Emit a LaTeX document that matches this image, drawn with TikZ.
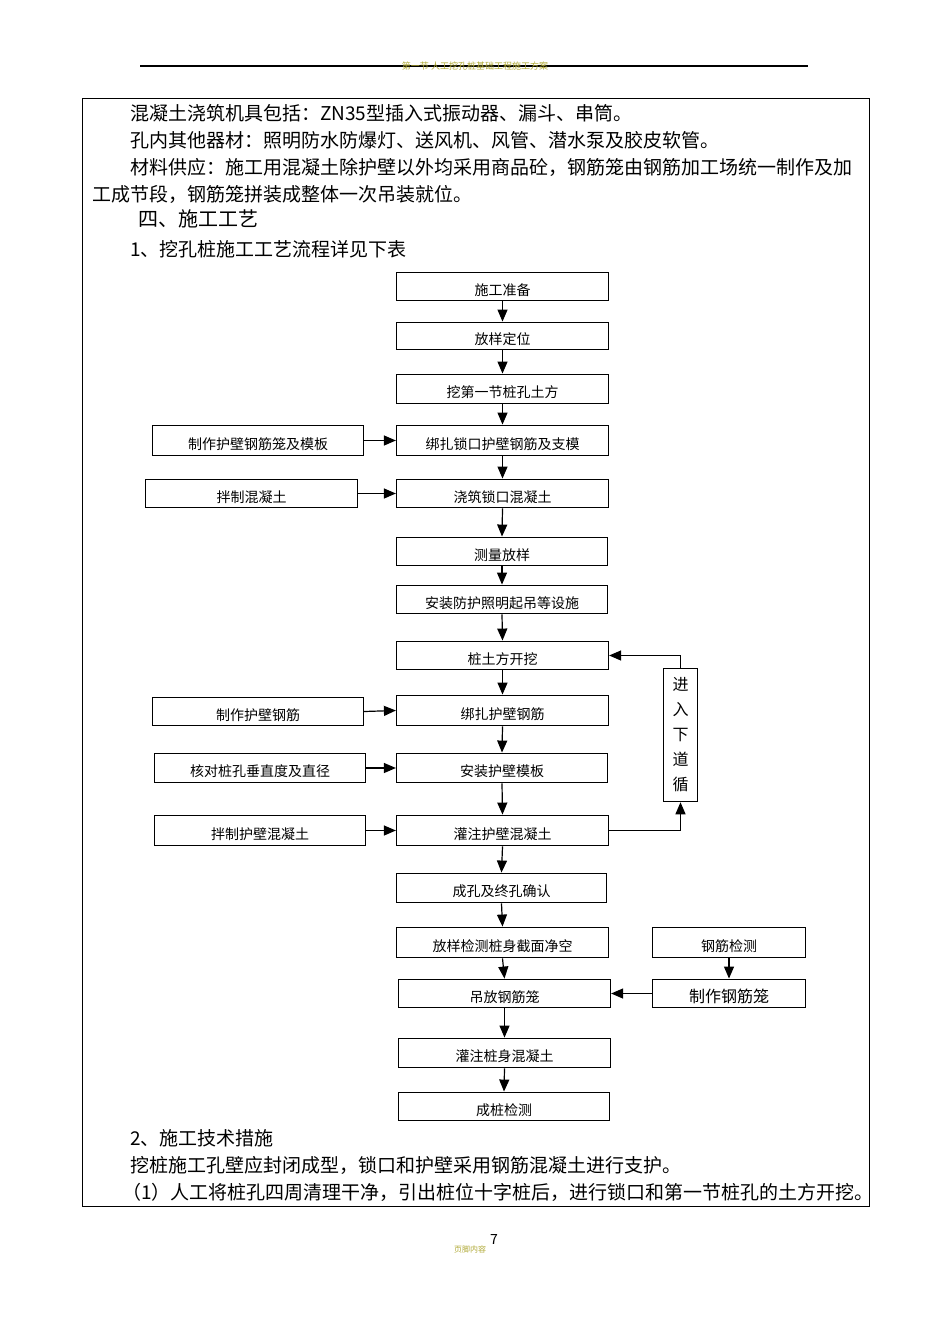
\documentclass[tikz,border=0pt]{standalone}
\usepackage{fontspec}
\setmainfont{Noto Sans CJK SC}
\usetikzlibrary{arrows.meta}
\tikzset{
 box/.style={draw, line width=1bp, inner sep=0pt, font=\fontsize{14bp}{16bp}\selectfont, text depth=0pt, text height=17bp},
 arr/.style={-{Triangle[length=12bp,width=10bp]}, line width=1.2bp},
 body/.style={anchor=base west, inner sep=0pt, font=\fontsize{19bp}{21bp}\selectfont},
}
\newcommand{\bx}[6]{\node[box, minimum width=#4-#2, minimum height=#5-#3] (#1) at ({(#2+#4)/2},{(#3+#5)/2}) {#6};}
\begin{document}
\begin{tikzpicture}[x=1bp,y=-1bp]
\useasboundingbox (0,0) rectangle (950,1344);
\fill[white] (0,0) rectangle (950,1344);
% header
\draw[line width=1.2bp] (140,66) -- (808,66);
\node[anchor=base, inner sep=0pt, text=olive!70!white, font=\fontsize{9bp}{10bp}\selectfont] (hdr) at (475,70) {第一节 人工挖孔桩基础工程施工方案};
% frame
\draw[line width=0.8bp] (82,98) rectangle (869,1206);
% body text
\node[body] (t1) at (130,121) {混凝土浇筑机具包括：ZN35型插入式振动器、漏斗、串筒。};
\node[body] (t2) at (130,148) {孔内其他器材：照明防水防爆灯、送风机、风管、潜水泵及胶皮软管。};
\node[body] (t3) at (130,175) {材料供应：施工用混凝土除护壁以外均采用商品砼，钢筋笼由钢筋加工场统一制作及加};
\node[body] (t4) at (92,202) {工成节段，钢筋笼拼装成整体一次吊装就位。};
\node[body, font=\fontsize{20bp}{22bp}\selectfont] (t5) at (138,227) {四、施工工艺};
\node[body] (t6) at (130,257) {1、挖孔桩施工工艺流程详见下表};
\node[body] (b1) at (130,1145) {2、施工技术措施};
\node[body] (b2) at (130,1172) {挖桩施工孔壁应封闭成型，锁口和护壁采用钢筋混凝土进行支护。};
\node[body] (b3) at (122,1199) {（1）人工将桩孔四周清理干净，引出桩位十字桩后，进行锁口和第一节桩孔的土方开挖。};
% footer
\node[anchor=base, inner sep=0pt, font=\fontsize{14bp}{16bp}\selectfont] (pg) at (494,1244) {7};
\node[anchor=base, inner sep=0pt, text=olive!70!white, font=\fontsize{8bp}{9bp}\selectfont] (ft) at (470,1252) {页脚内容};
% boxes
\bx{n1}{396}{272}{609}{301}{施工准备}
\bx{n2}{396}{322}{609}{350}{放样定位}
\bx{n3}{396}{374}{609}{404}{挖第一节桩孔土方}
\bx{n4}{396}{425}{609}{456}{绑扎锁口护壁钢筋及支模}
\bx{l4}{152}{425}{364}{456}{制作护壁钢筋笼及模板}
\bx{n5}{396}{479}{609}{508}{浇筑锁口混凝土}
\bx{l5}{145}{479}{358}{508}{拌制混凝土}
\bx{n6}{396}{537}{608}{566}{测量放样}
\bx{n7}{396}{585}{608}{614}{安装防护照明起吊等设施}
\bx{n8}{396}{641}{609}{670}{桩土方开挖}
\bx{n9}{396}{695}{609}{726}{绑扎护壁钢筋}
\bx{l9}{152}{697}{364}{726}{制作护壁钢筋}
\bx{n10}{396}{753}{608}{783}{安装护壁模板}
\bx{l10}{154}{753}{366}{783}{核对桩孔垂直度及直径}
\bx{n11}{396}{815}{609}{846}{灌注护壁混凝土}
\bx{l11}{154}{815}{366}{846}{拌制护壁混凝土}
\bx{n12}{396}{873}{607}{903}{成孔及终孔确认}
\bx{n13}{396}{927}{609}{958}{放样检测桩身截面净空}
\bx{r13}{652}{927}{806}{958}{钢筋检测}
\bx{n14}{398}{979}{611}{1008}{吊放钢筋笼}
\node[box, minimum width=154, minimum height=29, font=\fontsize{16bp}{18bp}\selectfont] (r14) at (729,993.5) {制作钢筋笼};
\bx{n15}{398}{1038}{611}{1068}{灌注桩身混凝土}
\bx{n16}{398}{1092}{610}{1121}{成桩检测}
\node[draw, line width=1bp, minimum width=35, minimum height=134, inner sep=0pt, align=center, font=\fontsize{16bp}{25bp}\selectfont] (lp) at (680.5,735) {进\\入\\下\\道\\循};
% vertical arrows
\foreach \a/\b in {n1/n2,n2/n3,n3/n4,n4/n5,n5/n6,n6/n7,n7/n8,n8/n9,n9/n10,n10/n11,n11/n12,n12/n13,n13/n14,n14/n15,n15/n16}
  \draw[arr] (\a.south) -- (\b.north);
\draw[arr] (r13.south) -- (r14.north);
\foreach \a/\b in {l4/n4,l5/n5,l9/n9,l10/n10,l11/n11}
  \draw[arr] (\a.east) -- (\b.west);
\draw[arr] (r14.west) -- (n14.east);
\draw[arr] (n11.east) -- (lp.south |- n11.east) -- (lp.south);
\draw[arr] (lp.north) -- (lp.north |- n8.east) -- (n8.east);
\end{tikzpicture}
\end{document}
